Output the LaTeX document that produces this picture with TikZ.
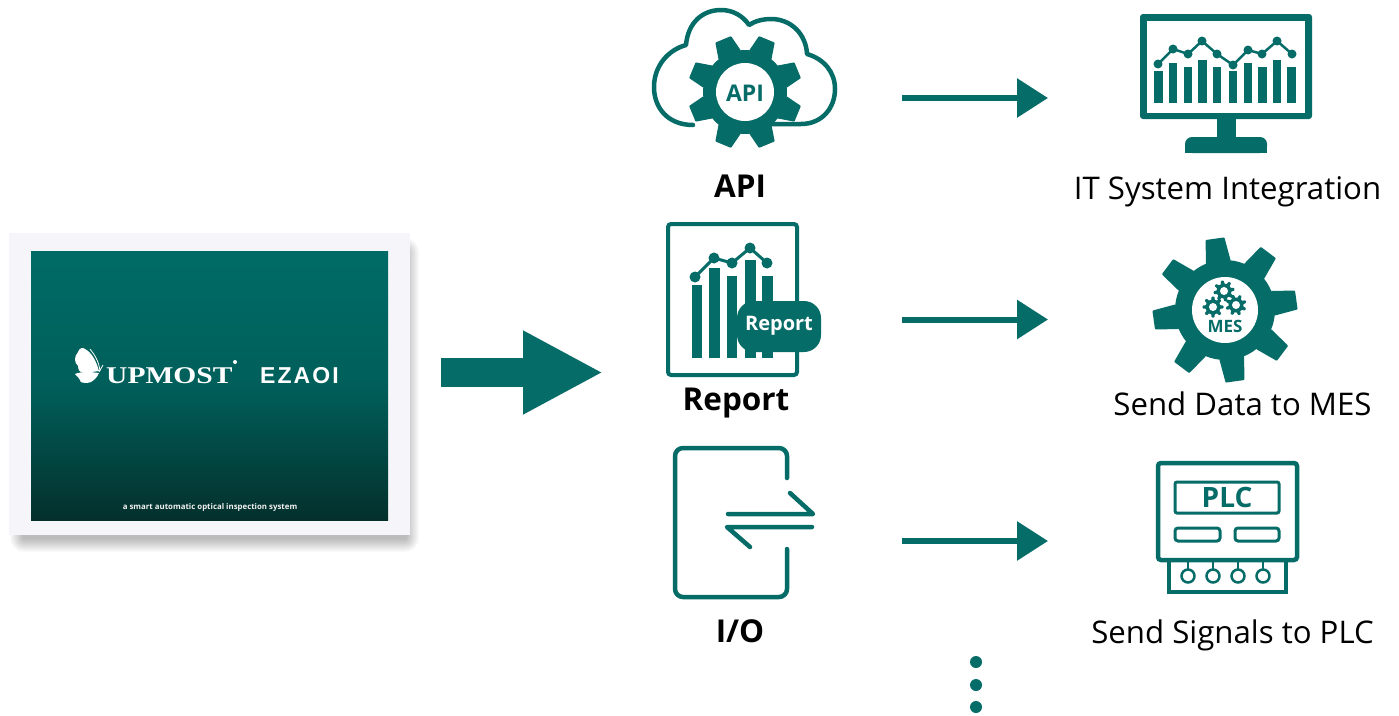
\documentclass[tikz,border=0pt]{standalone}
\usepackage{fontspec}
\setmainfont{Open Sans}
\newfontfamily\logoserif{Liberation Serif}
\newfontfamily\logosans[LetterSpace=9]{Liberation Sans}
\usetikzlibrary{arrows.meta}
\definecolor{upteal}{HTML}{066C68}
\definecolor{cardbg}{HTML}{F5F5FA}
\definecolor{scrtop}{HTML}{006B66}
\definecolor{scrmid}{HTML}{005F5A}
\definecolor{scrbot}{HTML}{04302C}
\newcommand{\fs}[1]{\fontsize{#1}{#1}\selectfont}
\newcommand{\cogwheel}[8]{%
  \begin{scope}[shift={(#1,#2)}]
    \foreach \k in {0,...,7} {
      \fill[upteal,rotate=\k*45+#3,rounded corners=0.8pt] (#5-2,-#7) -- (#4,-#8) -- (#4,#8) -- (#5-2,#7) -- cycle;
    }
    \fill[upteal] (0,0) circle[radius=#5];
    \fill[white] (0,0) circle[radius=#6];
  \end{scope}}
\tikzset{
  lbl/.style={anchor=base,text=black,inner sep=0pt,font=\fs{31.2}},
  blbl/.style={anchor=base,text=black,inner sep=0pt,font=\fs{31.5}\bfseries},
  flow/.style={draw=upteal,line width=6pt,-{Triangle[length=31pt,width=38pt]}},
  bigflow/.style={draw=upteal,line width=29pt,-{Triangle[length=80pt,width=78pt]}},
  stroke/.style={draw=upteal,line width=4.5pt,line cap=round,line join=round},
  barfill/.style={fill=upteal},
  dot/.style={fill=upteal},
  plot/.style={draw=upteal,line width=3pt}
}
\begin{document}
\begin{tikzpicture}[x=1pt,y=-1pt]
\useasboundingbox (0,0) rectangle (1399,715);
\fill[white] (0,0) rectangle (1399,715);
% card
\foreach \s in {14,13,...,1} {
  \fill[black,opacity=0.02,rounded corners=\s pt] (24-\s,252-\s) rectangle (405+\s,538+\s);
}
\node[fill=cardbg,minimum width=401pt,minimum height=302pt,inner sep=0pt,outer sep=0pt,anchor=north west] (card) at (9,233) {};
\node[top color=scrtop,bottom color=scrbot,middle color=scrmid,minimum width=357pt,minimum height=269pt,inner sep=0pt,outer sep=0pt,anchor=north west] (screen) at (31,251) {};
% butterfly
\fill[white] (78,352) .. controls (79,348) and (83,347) .. (85,349) .. controls (91,352) and (96,360) .. (99,371) .. controls (92,372) and (86,373) .. (81,372) .. controls (77,370) and (79,367) .. (78,366) .. controls (74,362) and (74,357) .. (78,352) -- cycle;
\fill[white] (75,374) .. controls (82,371) and (92,372) .. (99,373) .. controls (97,378) and (92,383) .. (87,383) .. controls (84,383) and (80,383) .. (80,380) .. controls (80,378) and (77,377) .. (75,374) -- cycle;
\draw[white,line width=0.8pt] (90,349) .. controls (95,355) and (99,362) .. (100,371);
\draw[white,line width=0.8pt] (99,372) -- (103,365);
\node[anchor=base west,inner sep=0pt,text=white,font=\logoserif\fs{24}\bfseries,xscale=1.23,transform shape] (upmost) at (106,383) {UPMOST};
\fill[white] (235,362) circle[radius=2];
\node[anchor=base west,inner sep=0pt,text=white,font=\logosans\fs{23}\bfseries] (ezaoi) at (260,383) {EZAOI};
\node[anchor=center,inner sep=0pt,text=white!95!black,font=\fs{7.85}\bfseries] (tag) at (210,507) {a smart automatic optical inspection system};
% connectors
\coordinate (bigs) at (441,372.5);
\coordinate (bige) at (603,372.5);
\draw[bigflow] (bigs) -- (bige);
\coordinate (as) at (902,98);   \coordinate (ae) at (1048,98);
\coordinate (rs) at (902,319.5);\coordinate (re) at (1048,319.5);
\coordinate (is) at (902,541);  \coordinate (ie) at (1048,541);
\draw[flow] (as) -- (ae);
\draw[flow] (rs) -- (re);
\draw[flow] (is) -- (ie);
% cloud + API gear
\draw[stroke] (693,125) .. controls (668,125) and (654,108) .. (654,87)
  .. controls (654,66) and (668,50) .. (686,45)
  .. controls (688,22) and (703,10) .. (721,10)
  .. controls (733,10) and (743,16) .. (749,25)
  .. controls (755,21) and (763,19) .. (771,19)
  .. controls (791,19) and (806,34) .. (807,54)
  .. controls (824,59) and (835,72) .. (835,89)
  .. controls (835,108) and (822,124) .. (801,124) -- (765,124);
\cogwheel{745}{92}{22.5}{57}{42}{29}{12}{8.5}
\node[anchor=center,inner sep=0pt,text=upteal,font=\fs{23}\bfseries] (apiin) at (745,93) {API};
\node[blbl] (apilbl) at (740,197) {API};
% report icon
\draw[draw=upteal,line width=4pt,rounded corners=3pt] (668,224) rectangle (797,375);
\fill[barfill] (692,285) rectangle (702,358);
\fill[barfill] (709,268) rectangle (720,358);
\fill[barfill] (727,276) rectangle (737,358);
\fill[barfill] (745,260) rectangle (756,358);
\fill[barfill] (762,276) rectangle (773,358);
\draw[plot] (695,277) -- (714,258) -- (732,263) -- (750,248) -- (767,263);
\foreach \p in {(695,277),(714,258),(732,263),(750,248),(767,263)} { \fill[dot] \p circle[radius=5.5]; }
\fill[upteal,rounded corners=17pt] (737,301) rectangle (821,352);
\node[anchor=center,inner sep=0pt,text=white,font=\fs{20}\bfseries] (repin) at (779,326) {Report};
\node[blbl] (replbl) at (736,410) {Report};
% IO icon
\draw[stroke,rounded corners=8pt] (787,478) -- (787,448) -- (675,448) -- (675,597) -- (787,597) -- (787,549);
\draw[stroke,sharp corners] (728,514) -- (813,514) -- (790,493);
\draw[stroke,sharp corners] (812,527) -- (727,527) -- (750,547);
\node[blbl] (iolbl) at (740,642) {I/O};
% monitor
\fill[upteal,rounded corners=3pt] (1140,14) rectangle (1312,119);
\fill[white] (1147,21) rectangle (1305,113);
\fill[upteal] (1217,118) rectangle (1236,138);
\fill[upteal,rounded corners=7pt] (1185,153) -- (1185,137) -- (1267,137) -- (1267,153) -- cycle;
\fill[upteal] (1185,146) rectangle (1267,153);
\foreach \a/\b/\t in {1154.3/1162.7/71,1169/1177.3/63.3,1183.7/1192/67.3,1198.3/1206.7/60,1213/1221.3/67.3,1229/1237.3/71,1243.7/1252/63.3,1258.3/1266.7/67.3,1273/1281.3/60,1287.3/1295.7/67.3} {
  \fill[barfill] (\a,\t) rectangle (\b,102.7);
}
\draw[draw=upteal,line width=2.5pt] (1158,64) -- (1173,49) -- (1188,54) -- (1202,41) -- (1217,54) -- (1233,65) -- (1248,50) -- (1262,54) -- (1277,41) -- (1292,54);
\foreach \p in {(1158,64),(1173,49),(1188,54),(1202,41),(1217,54),(1233,65),(1248,50),(1262,54),(1277,41),(1292,54)} { \fill[dot] \p circle[radius=4.5]; }
\node[lbl] (itlbl) at (1227.5,199) {IT System Integration};
% MES gear
\cogwheel{1225}{310}{8}{72}{50}{33}{12.5}{9.5}
\cogwheel{1224}{291}{10}{10.5}{7.5}{4}{2}{1.4}
\cogwheel{1213}{307}{0}{10.5}{7.5}{4}{2}{1.4}
\cogwheel{1236}{305}{20}{10.5}{7.5}{4}{2}{1.4}
\node[anchor=center,inner sep=0pt,text=upteal,font=\fs{17}\bfseries] (mesin) at (1225,326) {MES};
\node[lbl] (meslbl) at (1242.5,415) {Send Data to MES};
% PLC
\draw[draw=upteal,line width=4.5pt,rounded corners=3pt] (1158,463) rectangle (1297,560);
\draw[draw=upteal,line width=3pt,rounded corners=2pt] (1175,482) rectangle (1279,513);
\draw[draw=upteal,line width=3pt,rounded corners=3pt] (1175,528) rectangle (1220,541);
\draw[draw=upteal,line width=3pt,rounded corners=3pt] (1235,528) rectangle (1279,541);
\draw[draw=upteal,line width=4.5pt] (1169,560) -- (1169,592) -- (1286,592) -- (1286,560);
\foreach \c in {1188,1213,1238,1263} {
  \draw[draw=upteal,line width=2.5pt] (\c,562) -- (\c,569.5);
  \draw[draw=upteal,line width=2.5pt] (\c,576) circle[radius=6.5];
}
\node[anchor=center,inner sep=0pt,text=upteal,font=\fs{28}\bfseries] (plcin) at (1227,497) {PLC};
\node[lbl] (plclbl) at (1232.5,643) {Send Signals to PLC};
% dots
\foreach \y in {662,685,707} { \fill[upteal] (976,\y) circle[radius=6]; }
\end{tikzpicture}
\end{document}
